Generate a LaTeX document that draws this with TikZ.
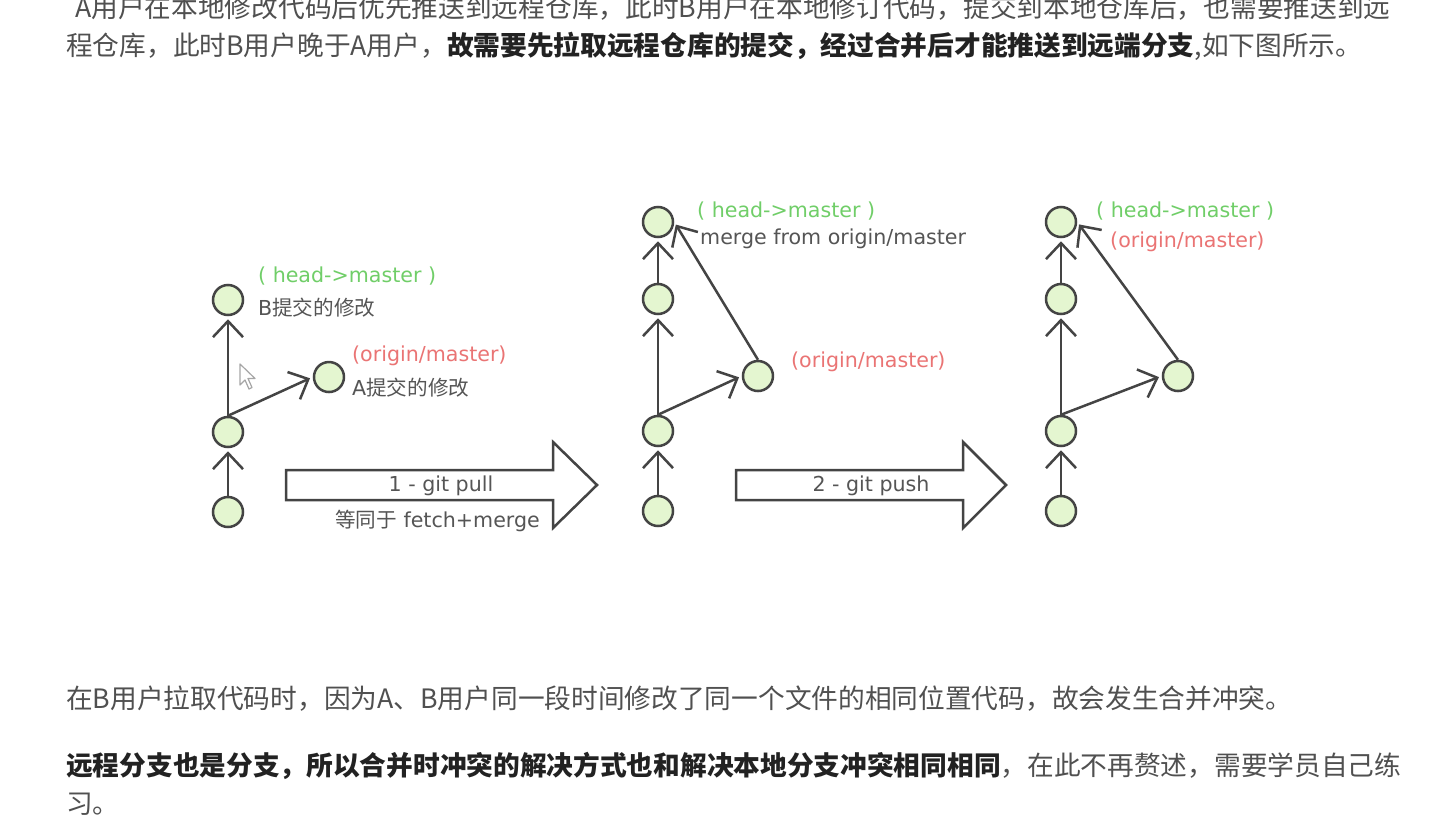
\documentclass[tikz,border=0pt]{standalone}
\usepackage{fontspec}
\setmainfont{DejaVu Sans}
\newfontfamily\cjk{Noto Sans CJK SC}
\usetikzlibrary{positioning}
\usetikzlibrary{arrows.meta}
\definecolor{linegray}{RGB}{68,68,68}
\definecolor{nodefill}{RGB}{228,246,208}
\definecolor{headgreen}{RGB}{112,206,104}
\definecolor{originred}{RGB}{234,116,116}
\definecolor{notegray}{RGB}{85,85,85}
\definecolor{paragray}{RGB}{80,80,80}
\definecolor{boldgray}{RGB}{34,34,34}
\tikzset{%
  commit/.style = {circle,draw=linegray,fill=nodefill,line width=2.5pt,
        minimum size=30pt,inner sep=0pt},
  parent/.style = {-{Straight Barb[length=16pt,width=30pt]},draw=linegray,
        line width=2.5pt,shorten >=3pt},
  bigarrow/.style = {draw=linegray,line width=2.5pt,fill=white,line join=miter},
  cursor/.style = {draw=gray!70,line width=1.2pt,fill=white,line join=round},
  note/.style = {anchor=west,inner sep=0pt,text=notegray,
        font=\fontsize{20.6}{24}\selectfont},
  headtag/.style = {note,text=headgreen},
  origintag/.style = {note,text=originred},
  para/.style = {anchor=base west,inner sep=0pt,text=paragray,
        font=\cjk\fontsize{26.7}{30}\selectfont}
}

\begin{document}
\begin{tikzpicture}[x=1pt,y=-1pt]
   \useasboundingbox (0,0) rectangle (1434,822);
   \clip (0,0) rectangle (1434,822);
   \fill[white] (0,0) rectangle (1434,822);

   \node[para] (top1) at (75,17) {A用户在本地修改代码后优先推送到远程仓库，此时B用户在本地修订代码，提交到本地仓库后，也需要推送到远};
   \node[para] (top2) at (66,55) {程仓库，此时B用户晚于A用户，\textcolor{boldgray}{\bfseries 故需要先拉取远程仓库的提交，经过合并后才能推送到远端分支},如下图所示。};

   % before the pull
   \node[commit] (p1a) at (228,512) {};
   \node[commit] (p1b) [above=47.5pt of p1a] {};
   \node[commit] (p1c) [above=99.5pt of p1b] {};
   \node[commit] (p1s) [above right=32pt and 78pt of p1b] {};

   \draw[parent] (p1a) -- (p1b);
   \draw[parent] (p1b) -- (p1c);
   \draw[parent] (p1b.north) -- (p1s.west);

   \node[headtag] (p1head) at (258,276) {( head->master )};
   \node[note] (p1bnote) at (258,308) {B{\cjk 提交的修改}};
   \node[origintag] (p1origin) at (352,356) {(origin/master)};
   \node[note] (p1anote) at (352,388) {A{\cjk 提交的修改}};

   \draw[cursor] (240,364) -- ++(0,21) -- ++(5,-5) -- ++(4,9) -- ++(3,-1.5)
      -- ++(-4,-9) -- ++(7,0) -- cycle;

   \draw[bigarrow] (286,470) -- (553,470) -- (553,442) -- (597,485)
      -- (553,528) -- (553,500) -- (286,500) -- cycle;
   \node[note] (pullcmd) at (441,486) [anchor=center] {1 - git pull};
   \node[note] (pullnote) at (335,521) {{\cjk 等同于} fetch+merge};

   % after the pull
   \node[commit] (p2a) at (658,511) {};
   \node[commit] (p2b) [above=47.5pt of p2a] {};
   \node[commit] (p2c) [above=99.5pt of p2b] {};
   \node[commit] (p2d) [above=44.5pt of p2c] {};
   \node[commit] (p2s) [above right=32pt and 77pt of p2b] {};

   \draw[parent] (p2a) -- (p2b);
   \draw[parent] (p2b) -- (p2c);
   \draw[parent] (p2c) -- (p2d);
   \draw[parent] (p2b.north) -- (p2s.west);
   \draw[parent] (p2s.north) -- (p2d.east);

   \node[headtag] (p2head) at (697,211) {( head->master )};
   \node[note] (p2mnote) at (700,239) {merge from origin/master};
   \node[origintag] (p2origin) at (791,362) {(origin/master)};

   \draw[bigarrow] (736,470) -- (963,470) -- (963,442) -- (1006,485)
      -- (963,528) -- (963,500) -- (736,500) -- cycle;
   \node[note] (pushcmd) at (871,486) [anchor=center] {2 - git push};

   % after the push
   \node[commit] (p3a) at (1061,511) {};
   \node[commit] (p3b) [above=47.5pt of p3a] {};
   \node[commit] (p3c) [above=99.5pt of p3b] {};
   \node[commit] (p3d) [above=44.5pt of p3c] {};
   \node[commit] (p3s) [above right=32pt and 94pt of p3b] {};

   \draw[parent] (p3a) -- (p3b);
   \draw[parent] (p3b) -- (p3c);
   \draw[parent] (p3c) -- (p3d);
   \draw[parent] (p3b.north) -- (p3s.west);
   \draw[parent] (p3s.north) -- (p3d.east);

   \node[headtag] (p3head) at (1096,211) {( head->master )};
   \node[origintag] (p3origin) at (1110,242) {(origin/master)};

   \node[para] (bot1) at (66,708) {在B用户拉取代码时，因为A、B用户同一段时间修改了同一个文件的相同位置代码，故会发生合并冲突。};
   \node[para] (bot2) at (66,775) {\textcolor{boldgray}{\bfseries 远程分支也是分支，所以合并时冲突的解决方式也和解决本地分支冲突相同相同}，在此不再赘述，需要学员自己练};
   \node[para] (bot3) at (66,813) {习。};
\end{tikzpicture}
\end{document}
